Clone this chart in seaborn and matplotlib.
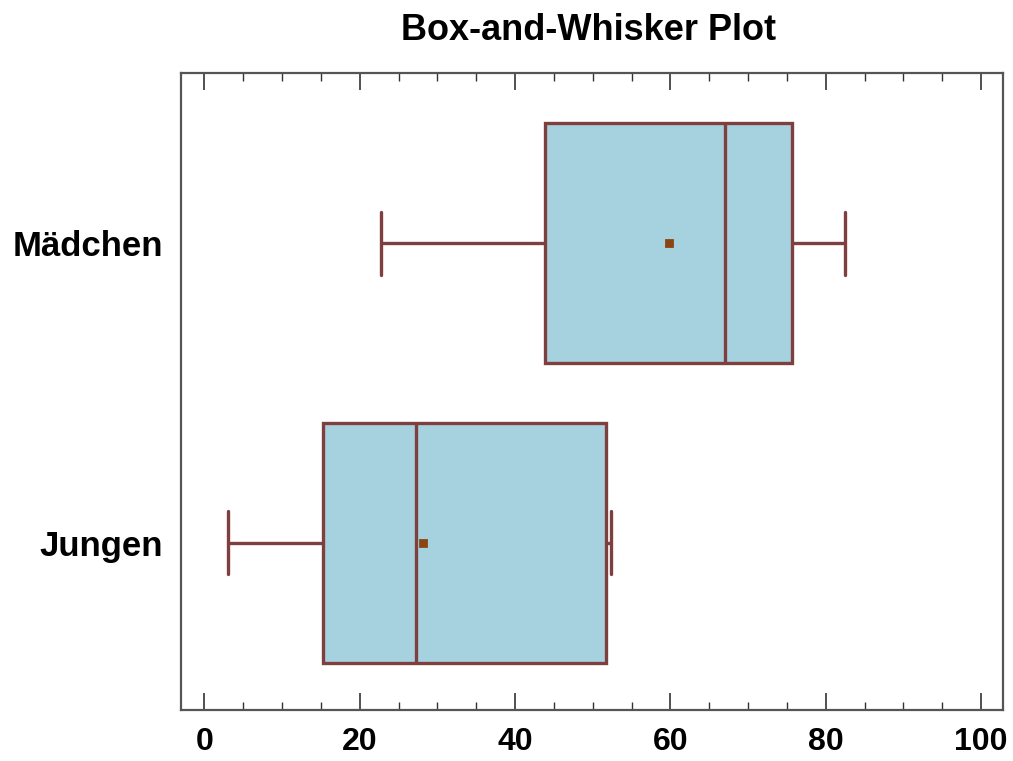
import numpy as np
import pandas as pd
import matplotlib
matplotlib.use("Agg")
import matplotlib.pyplot as plt
from matplotlib.ticker import MultipleLocator
import seaborn as sns

# Data (five-number summaries + means)
groups = ["Mädchen", "Jungen"]
whisker_low = [22.8, 3.1]
q1 = [43.9, 15.3]
median = [67.0, 27.3]
q3 = [75.6, 51.7]
whisker_high = [82.5, 52.4]
means = [59.8, 28.2]
title = "Box-and-Whisker Plot"

rows = []
for g, a, b, c, d, e in zip(groups, whisker_low, q1, median, q3, whisker_high):
    for v in (a, b, c, d, e):
        rows.append({"group": g, "value": v})
df = pd.DataFrame(rows)
mean_df = pd.DataFrame({"group": groups, "value": means})

sns.set_style("white")
plt.rcParams["font.family"] = ["Liberation Sans", "DejaVu Sans"]
plt.rcParams["text.color"] = "black"
plt.rcParams["xtick.labelcolor"] = "black"
plt.rcParams["ytick.labelcolor"] = "black"

fig = plt.figure(figsize=(10.13, 7.61), dpi=100)
ax = fig.add_axes([0.1787, 0.067, 0.8113, 0.837])

fill = "#A6D2DF"
edge = "#7F3F3F"
sns.boxplot(data=df, x="value", y="group", order=groups, orient="h",
            whis=(0, 100), width=0.8, color=fill, linecolor=edge,
            linewidth=2.4, saturation=1, showfliers=False, ax=ax,
            capwidths=0.21)
sns.pointplot(data=mean_df, x="value", y="group", order=groups, orient="h",
              linestyle="none", marker="s", color="#8B4513", markersize=5,
              errorbar=None, ax=ax, zorder=10)

ax.set_xlim(-3, 102.8)
ax.set_ylim(1.557, -0.567)
ax.set_xlabel("")
ax.set_ylabel("")
ax.xaxis.set_major_locator(MultipleLocator(20))
ax.xaxis.set_minor_locator(MultipleLocator(5))
ax.tick_params(axis="x", which="major", direction="in", length=12, width=1.2,
               top=True, bottom=True, color="#333333", labelsize=23, pad=12,
               labelcolor="black")
ax.tick_params(axis="x", which="minor", direction="in", length=6, width=1.0,
               top=True, bottom=True, color="#333333")
ax.tick_params(axis="y", length=0, labelsize=25, pad=13, labelcolor="black")
for lab in ax.get_xticklabels() + ax.get_yticklabels():
    lab.set_fontweight("bold")
for s in ax.spines.values():
    s.set_visible(True)
    s.set_color("#555555")
    s.set_linewidth(1.6)

fig.text(0.581, 0.960, title, ha="center", va="center", fontsize=26,
         fontweight="bold", color="black")

fig.savefig("out.png", dpi=100)
